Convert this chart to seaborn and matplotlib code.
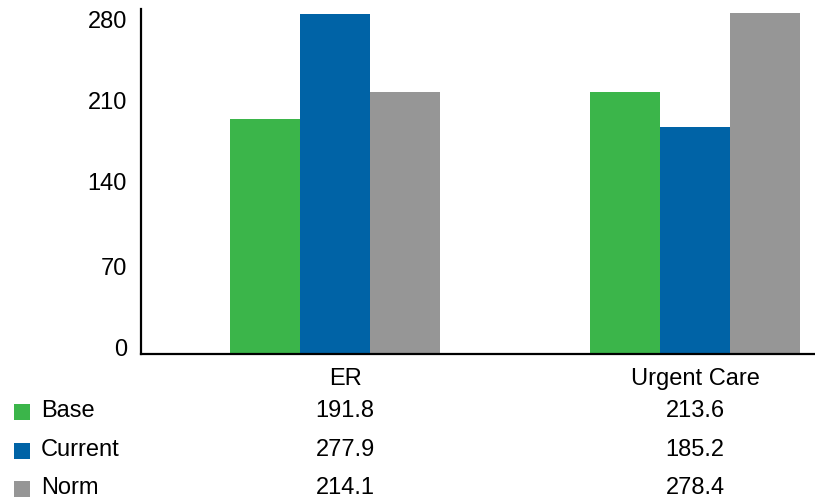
import matplotlib
matplotlib.use("Agg")
import matplotlib.pyplot as plt
import matplotlib.transforms as mtransforms
import matplotlib.patches as mpatches
import seaborn as sns
import pandas as pd

categories = ["ER", "Urgent Care"]
series = ["Base", "Current", "Norm"]
base = [191.8, 213.6]
current = [277.9, 185.2]
norm = [214.1, 278.4]
y_ticks = [0, 70, 140, 210, 280]
colors = ["#3BB54A", "#0063A6", "#969696"]

sns.set_theme(style="white")
plt.rcParams["font.family"] = ["Liberation Sans", "DejaVu Sans"]

df = pd.DataFrame({
    "category": categories * 3,
    "series": [s for s in series for _ in categories],
    "value": base + current + norm,
})

fig = plt.figure(figsize=(8.15, 4.98), dpi=100)
ax = fig.add_axes([141 / 815, 144 / 498, 674 / 815, 345 / 498])

sns.barplot(data=df, x="category", y="value", hue="series", order=categories,
            hue_order=series, palette=colors, width=0.583, saturation=1,
            errorbar=None, legend=False, linewidth=0, ax=ax)

ax.set_ylim(0, 281.6)
ax.set_xlim(-0.539, 1.333)
ax.set_yticks(y_ticks)
ax.set_yticklabels([str(t) for t in y_ticks], fontsize=17)
ax.set_xticks([])
ax.set_xlabel("")
ax.set_ylabel("")
ax.tick_params(axis="y", length=0, pad=10, colors="black")

# tick labels sit on an evenly spaced column slightly tighter than the value scale
label_nudge_px = [-7, -2, -1, 4, 9]
for lab, dy in zip(ax.get_yticklabels(), label_nudge_px):
    lab.set_transform(lab.get_transform()
                      + mtransforms.ScaledTranslation(0, -dy / 100, fig.dpi_scale_trans))

for side in ["top", "right"]:
    ax.spines[side].set_visible(False)
for side in ["left", "bottom"]:
    ax.spines[side].set_color("black")
    ax.spines[side].set_linewidth(1.6)

# Data table below the plot: category headers, legend keys and values
table_tr = mtransforms.blended_transform_factory(ax.transData, fig.transFigure)
col_shift = [10 / 360, 0]
header_y = 379
row_y = [411, 450, 488]


def fig_y(py):
    return 1 - py / 498


for i, cat in enumerate(categories):
    ax.text(i + col_shift[i], fig_y(header_y), cat, transform=table_tr, fontsize=17,
            ha="center", va="center", color="black", clip_on=False)

values = [base, current, norm]
for r, (name, col, vals) in enumerate(zip(series, colors, values)):
    yy = fig_y(row_y[r])
    fig.patches.append(mpatches.Rectangle(
        (14 / 815, yy - 9 / 498), 16 / 815, 16 / 498, transform=fig.transFigure,
        facecolor=col, edgecolor="none", figure=fig))
    fig.text(41 / 815, yy, name, fontsize=17, va="center", ha="left", color="black")
    for i, v in enumerate(vals):
        ax.text(i + col_shift[i], yy, f"{v:.1f}", fontsize=17, ha="center", va="center",
                color="black", transform=table_tr, clip_on=False)

fig.savefig("out.png", dpi=100)
